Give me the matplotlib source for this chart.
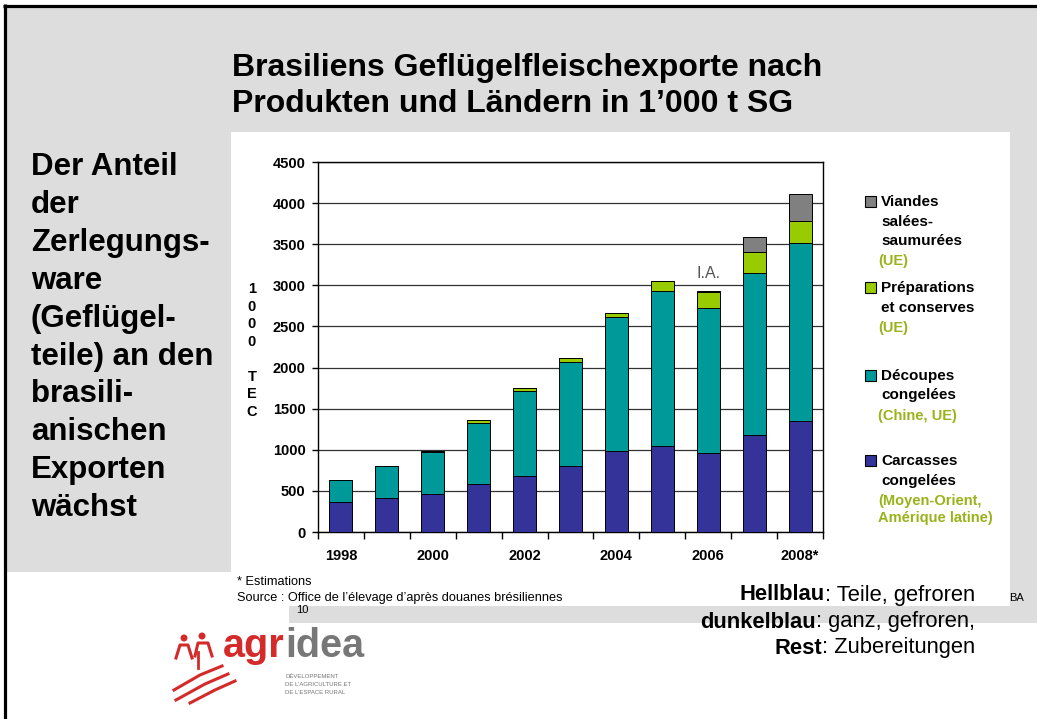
import numpy as np
import matplotlib
matplotlib.use('Agg')
import matplotlib.pyplot as plt
from matplotlib.patches import Rectangle, Circle

plt.rcParams['font.family'] = ['Liberation Sans', 'DejaVu Sans']

# données (1000 t équivalent carcasse)
years = ['1998', '1999', '2000', '2001', '2002', '2003', '2004', '2005', '2006', '2007', '2008*']
carcasses = [365, 418, 466, 588, 685, 807, 990, 1050, 957, 1176, 1354]
decoupes = [271, 389, 503, 738, 1030, 1265, 1621, 1877, 1763, 1970, 2157]
preparations = [0, 0, 15, 32, 32, 40, 52, 122, 195, 255, 271]
viandes = [0, 0, 0, 0, 0, 0, 0, 0, 15, 183, 325]

series = [carcasses, decoupes, preparations, viandes]
colors = ['#333399', '#009999', '#99cc00', '#808080']

W, H = 1037, 719
fig = plt.figure(figsize=(W / 100, H / 100), dpi=100, facecolor='white')

# fond de la diapositive (coordonnées en pixels)
bg = fig.add_axes([0, 0, 1, 1], zorder=0)
bg.set_xlim(0, W)
bg.set_ylim(H, 0)
bg.axis('off')

gray = '#dddddd'
bg.add_patch(Rectangle((5, 5), W - 5, 567, color=gray, lw=0))
bg.add_patch(Rectangle((1010, 560), 27, 46, color=gray, lw=0))
bg.add_patch(Rectangle((289, 606), W - 289, 17, color=gray, lw=0))
bg.add_patch(Rectangle((231, 132), 779, 474, color='white', lw=0))
bg.plot([3, W], [5.5, 5.5], color='black', lw=2.3, solid_capstyle='butt')
bg.plot([4.5, 4.5], [4, H], color='black', lw=2.3, solid_capstyle='butt')

# titre
bg.text(232, 68, 'Brasiliens Geflügelfleischexporte nach', fontsize=23, fontweight='bold', va='center')
bg.text(232, 104, 'Produkten und Ländern in 1’000 t SG', fontsize=23, fontweight='bold', va='center')

# texte de gauche
left_lines = ['Der Anteil', 'der', 'Zerlegungs-', 'ware', '(Geflügel-', 'teile) an den',
              'brasili-', 'anischen', 'Exporten', 'wächst']
for i, line in enumerate(left_lines):
    bg.text(31, 167 + i * 37.9, line, fontsize=22.5, fontweight='bold', va='center')

# graphique
ax = fig.add_axes([318 / W, (H - 532) / H, 505 / W, 370 / H], zorder=2)
ax.set_facecolor('none')
x = np.arange(len(years))
bottom = np.zeros(len(years))
for vals, c in zip(series, colors):
    ax.bar(x, vals, 0.5, bottom=bottom, color=c, edgecolor='black', linewidth=0.7, zorder=3)
    bottom += np.array(vals)

ax.set_xlim(-0.5, len(years) - 0.5)
ax.set_ylim(0, 4500)
ax.set_yticks(np.arange(0, 4501, 500))
ax.yaxis.grid(True, color='#333333', lw=0.9)
ax.set_axisbelow(True)
for s in ax.spines.values():
    s.set_color('black')
    s.set_linewidth(1)
ax.tick_params(axis='y', length=4, width=1, pad=5, labelsize=10.5)
for lab in ax.get_yticklabels():
    lab.set_fontweight('bold')

ax.set_xticks(np.arange(-0.5, len(years), 1))
ax.set_xticklabels([])
ax.tick_params(axis='x', which='major', length=5, width=1, direction='out')
ax.set_xticks(x[::2], minor=True)
ax.set_xticklabels([years[i] for i in x[::2]], minor=True, fontsize=10.5, fontweight='bold')
ax.tick_params(axis='x', which='minor', length=0, pad=12)

ax.text(8, 2931 + 120, 'I.A.', ha='center', va='bottom', fontsize=11.5, color='#555555')

# titre de l'axe vertical
bg.text(252, 282, '1\n0\n0\n0\n\nT\nE\nC', fontsize=10.5, fontweight='bold', ha='center',
        va='top', linespacing=1.32)

# légende
green = '#99b31a'
legend = [
    ('#808080', 201, ['Viandes', 'salées-', 'saumurées'], ['(UE)']),
    ('#99cc00', 287, ['Préparations', 'et conserves'], ['(UE)']),
    ('#009999', 375, ['Découpes', 'congelées'], ['(Chine, UE)']),
    ('#333399', 460, ['Carcasses', 'congelées'], ['(Moyen-Orient,', 'Amérique latine)']),
]
for c, yc, black_lines, green_lines in legend:
    bg.add_patch(Rectangle((865, yc - 5.5), 11, 11, facecolor=c, edgecolor='black', lw=0.8))
    yy = yc + 1
    for t in black_lines:
        bg.text(881, yy, t, fontsize=11, fontweight='bold', va='center')
        yy += 19.5
    for j, t in enumerate(green_lines):
        bg.text(878, yy + (1 if j == 0 else 0), t, fontsize=10.5, fontweight='bold', va='center', color=green)
        yy += 18

# notes
bg.text(237, 582, '* Estimations', fontsize=9.2, va='center')
bg.text(237, 598, 'Source : Office de l’élevage d’après douanes brésiliennes', fontsize=9.2, va='center')
bg.text(296, 610, '10', fontsize=8, va='center')
bg.text(1009, 598, 'BA', fontsize=8, va='center')

# texte en bas à droite (gras + normal, aligné à droite)
fig.canvas.draw()
renderer = fig.canvas.get_renderer()
notes = [('Hellblau', ': Teile, gefroren', 595), ('dunkelblau', ': ganz, gefroren,', 622),
         ('Rest', ': Zubereitungen', 648)]
for bold_part, rest, yy in notes:
    t = bg.text(975, yy, rest, fontsize=15.8, va='center', ha='right')
    bb = t.get_window_extent(renderer)
    xl = bg.transData.inverted().transform((bb.x0, bb.y0))[0]
    bg.text(xl, yy, bold_part, fontsize=15.8, fontweight='bold', va='center', ha='right')

# logo agridea
red = '#d42a2a'
bg.add_patch(Circle((184, 638), 3.5, color=red, lw=0))
bg.add_patch(Circle((202, 636), 3.5, color=red, lw=0))
bg.plot([176, 180, 188, 192], [658, 645, 645, 658], color=red, lw=2.2)
bg.plot([195, 198, 208, 212], [656, 643, 643, 656], color=red, lw=2.2)
bg.plot([198, 198], [652, 668], color=red, lw=2)
bg.plot([174, 200, 222], [690, 675, 666], color=red, lw=2.2)
bg.plot([176, 205, 228], [700, 684, 674], color=red, lw=2.2)
bg.plot([190, 215, 235], [703, 690, 681], color=red, lw=2.2)
t1 = bg.text(223, 657, 'agr', fontsize=28.5, fontweight='bold', color=red, va='baseline')
bb1 = t1.get_window_extent(renderer)
x2 = bg.transData.inverted().transform((bb1.x1, bb1.y0))[0]
bg.text(x2, 657, 'idea', fontsize=28.5, fontweight='bold', color='#777777', va='baseline')
for k, s in enumerate(['DÉVELOPPEMENT', 'DE L’AGRICULTURE ET', 'DE L’ESPACE RURAL']):
    bg.text(285, 677 + k * 8, s, fontsize=4.3, color='#777777', va='center')

fig.savefig('out.png', dpi=100)
